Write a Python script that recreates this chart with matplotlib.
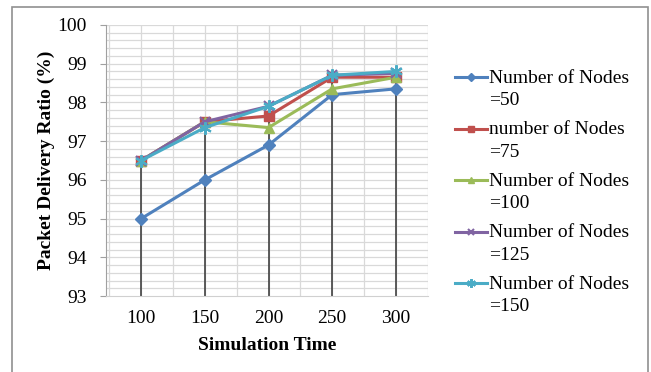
import numpy as np
import matplotlib.pyplot as plt
from matplotlib.patches import Rectangle
from matplotlib.legend_handler import HandlerLine2D

plt.rcParams['font.family'] = ['Liberation Serif', 'DejaVu Serif']

# data
sim_time = ["100", "150", "200", "250", "300"]
nodes_50 = [95.0, 96.0, 96.9, 98.2, 98.35]
nodes_75 = [96.5, 97.5, 97.65, 98.65, 98.65]
nodes_100 = [96.5, 97.5, 97.35, 98.35, 98.65]
nodes_125 = [96.5, 97.5, 97.9, 98.7, 98.75]
nodes_150 = [96.5, 97.35, 97.9, 98.7, 98.8]
labels = ["Number of Nodes\n=50", "number of Nodes\n=75", "Number of Nodes\n=100",
          "Number of Nodes\n=125", "Number of Nodes\n=150"]

series = [nodes_50, nodes_75, nodes_100, nodes_125, nodes_150]
colors = ["#4F81BD", "#C0504D", "#9BBB59", "#8064A2", "#4BACC6"]
markers = ["D", "s", "^", "x", (6, 2, 0)]
msizes = [6, 7, 7, 7, 9]


class RaisedHandle(HandlerLine2D):
    # put the legend key next to the first text line, as Excel does
    def create_artists(self, legend, orig_handle, xdescent, ydescent,
                       width, height, fontsize, trans):
        arts = super().create_artists(legend, orig_handle, xdescent, ydescent,
                                      width, height, fontsize, trans)
        for a in arts:
            a.set_ydata(np.asarray(a.get_ydata()) + 0.62 * fontsize)
        return arts


fig = plt.figure(figsize=(6.51, 3.72), dpi=100)
ax = fig.add_axes([0.163, 0.204, 0.494, 0.729])

x = np.arange(len(sim_time))

# grid
ax.set_xlim(-0.55, 4.5)
ax.set_ylim(93, 100)
for v in np.arange(93.2, 100.01, 0.2):
    ax.axhline(v, color="#d9d9d9", lw=0.9, zorder=0)
for v in np.arange(-0.5, 4.51, 0.5):
    ax.axvline(v, color="#d9d9d9", lw=0.9, zorder=0)

# drop lines
tops = np.max(np.array(series), axis=0)
ax.vlines(x, 93, tops, color="#404040", lw=1.2, zorder=1)

lines = []
for ys, c, m, ms, lab in zip(series, colors, markers, msizes, labels):
    mew = 1.5 if m in ("x", (6, 2, 0)) else 1
    ln, = ax.plot(x, ys, color=c, lw=2.2, marker=m, ms=ms, mew=mew, label=lab, zorder=3)
    lines.append(ln)

ax.set_xticks(x)
ax.set_xticklabels(sim_time)
ax.set_yticks(range(93, 101))
ax.tick_params(axis="x", length=0, labelsize=14, pad=10)
ax.tick_params(axis="y", length=4, color="#a0a0a0", labelsize=14, pad=10)
for s in ["top", "right"]:
    ax.spines[s].set_visible(False)
ax.spines["left"].set_color("#a0a0a0")
ax.spines["bottom"].set_color("#d0d0d0")

ax.set_xlabel("Simulation Time", fontsize=14, fontweight="bold", labelpad=7)
ax.set_ylabel("Packet Delivery Ratio (%)", fontsize=14, fontweight="bold", labelpad=2)

leg = fig.legend(handles=lines, loc="upper left", bbox_to_anchor=(455 / 651, 1 - 70 / 372),
                 frameon=False, fontsize=14, handlelength=1.65, handletextpad=0.1,
                 labelspacing=0.63, borderpad=0, borderaxespad=0, markerscale=0.7,
                 handler_map={ln: RaisedHandle() for ln in lines})
for t in leg.get_texts():
    t.set_linespacing(1.4)

# outer frame
fig.patches.append(Rectangle((12 / 651, -0.01), 636 / 651, 1 - 7 / 372 + 0.01,
                             transform=fig.transFigure, fill=False,
                             edgecolor="#909090", lw=1.2))

fig.savefig("out.png", dpi=100)
